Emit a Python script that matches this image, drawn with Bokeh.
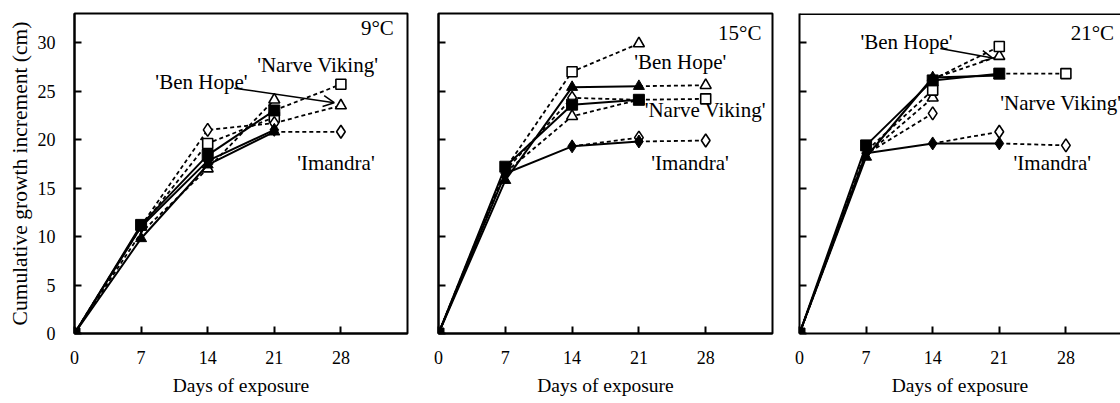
from bokeh.plotting import figure
from bokeh.layouts import row
from bokeh.models import FixedTicker, Label, Arrow, OpenHead, Range1d, Span
from bokeh.embed import file_html
from bokeh.resources import INLINE

FONT = "Liberation Serif"

x_ticks = [0, 7, 14, 21, 28]
y_ticks = [0, 5, 10, 15, 20, 25, 30]
days_f = [0, 7, 14, 21]

# ---------------- 9 °C ----------------
bh9_f = [0, 9.8, 17.4, 20.8]      # 'Ben Hope' filled triangles
nv9_f = [0, 11.2, 18.4, 23.0]     # 'Narve Viking' filled squares
im9_f = [0, 11.0, 17.8, 21.0]     # 'Imandra' filled diamonds
dash9_x = [[0, 7, 14, 21], [0, 7, 14, 21], [0, 7, 14, 21], [21, 28], [21, 28], [21, 28]]
dash9_y = [[0, 10.4, 17.0, 24.1], [0, 11.0, 19.6, 22.3], [0, 11.1, 21.0, 21.7],
           [23.0, 25.7], [21.7, 23.5], [20.8, 20.8]]
tri9_x, tri9_y = [14, 21, 28], [17.0, 24.1, 23.5]
sq9_x, sq9_y = [14, 21, 28], [19.6, 22.3, 25.7]
dia9_x, dia9_y = [14, 21, 28], [21.0, 21.7, 20.8]

# ---------------- 15 °C ----------------
bh15_f = [0, 15.8, 25.4, 25.5]
nv15_f = [0, 17.2, 23.6, 24.1]
im15_f = [0, 16.5, 19.3, 19.8]
dash15_x = [[0, 7, 14, 21], [0, 7, 14, 21], [0, 7, 14, 21], [14, 21], [21, 28], [21, 28], [21, 28]]
dash15_y = [[0, 17.0, 27.0, 29.9], [0, 16.6, 22.4, 24.1], [0, 16.8, 24.3, 24.1],
            [19.3, 20.2], [25.5, 25.6], [24.1, 24.2], [19.8, 19.9]]
tri15_x, tri15_y = [14, 21, 28], [22.4, 29.9, 25.6]
sq15_x, sq15_y = [14, 28], [27.0, 24.2]
dia15_x, dia15_y = [14, 21, 28], [24.3, 20.2, 19.9]

# ---------------- 21 °C ----------------
bh21_f = [0, 18.2, 26.4, 26.6]
nv21_f = [0, 19.4, 26.1, 26.8]
im21_f = [0, 18.6, 19.6, 19.6]
dash21_x = [[0, 7, 14], [0, 7, 14], [0, 7, 14], [14, 21], [14, 21], [14, 21], [21, 28], [21, 28]]
dash21_y = [[0, 18.4, 24.3], [0, 18.8, 25.1], [0, 18.5, 22.7],
            [26.3, 28.6], [26.2, 29.6], [19.6, 20.8], [26.8, 26.8], [19.6, 19.4]]
tri21_x, tri21_y = [14, 21], [24.3, 28.6]
sq21_x, sq21_y = [14, 21, 28], [25.1, 29.6, 26.8]
dia21_x, dia21_y = [14, 21, 28], [22.7, 20.8, 19.4]

MARK_OPEN = {"triangle": 11, "square": 10, "diamond": 13}
MARK_FILL = {"triangle": 11, "square": 11, "diamond": 13}


def style_axis(ax, ticks):
    ax.ticker = FixedTicker(ticks=ticks)
    ax.major_tick_in = 7
    ax.major_tick_out = 0
    ax.minor_tick_line_color = None
    ax.axis_line_width = 2
    ax.axis_line_color = "black"
    ax.major_tick_line_width = 2
    ax.major_tick_line_color = "black"
    ax.major_label_text_font = FONT
    ax.major_label_text_font_size = "18px"
    ax.major_label_text_color = "black"
    ax.axis_label_text_font = FONT
    ax.axis_label_text_font_style = "normal"
    ax.axis_label_text_color = "black"


def panel(width, bl, br, xend, first, filled, dxs, dys, opens, labels, arrow, outline=True):
    p = figure(width=width, height=403, output_backend="svg", toolbar_location=None,
               x_range=Range1d(0, xend), y_range=Range1d(0, 33),
               min_border_left=bl, min_border_right=br, min_border_top=13, min_border_bottom=70,
               background_fill_color="white", border_fill_color="white",
               outline_line_color=("black" if outline else None),
               outline_line_width=(2 if outline else 0),
               outline_line_alpha=(1 if outline else 0))
    p.grid.visible = False
    if not outline:
        p.add_layout(Span(location=33, dimension="width", line_color="black", line_width=3))
    style_axis(p.xaxis[0], x_ticks)
    p.xaxis.major_label_standoff = 17
    p.xaxis.axis_label = "Days of exposure"
    p.xaxis.axis_label_text_font_size = "19.5px"
    p.xaxis.axis_label_standoff = 8
    style_axis(p.yaxis[0], y_ticks)
    if first:
        p.yaxis.major_label_standoff = 19
        p.yaxis.axis_label = "Cumulative growth increment (cm)"
        p.yaxis.axis_label_text_font_size = "21.5px"
        p.yaxis.axis_label_standoff = 3
    else:
        p.yaxis.major_label_overrides = {t: "" for t in y_ticks}
        p.yaxis.major_label_standoff = 0

    p.multi_line(dxs, dys, line_color="black", line_width=1.8, line_dash="4 3")
    for (xs, ys, m) in opens:
        p.scatter(xs, ys, marker=m, size=MARK_OPEN[m], fill_color="white",
                  line_color="black", line_width=1.6)
    for (ys, m) in filled:
        p.line(days_f, ys, line_color="black", line_width=2)
    for (ys, m) in filled:
        p.scatter(days_f, ys, marker=m, size=MARK_FILL[m], fill_color="black",
                  line_color="black", line_width=1)
    for (txt, x, y) in labels:
        p.add_layout(Label(x=x, y=y, text=txt, text_font=FONT, text_font_size="21px",
                           text_color="black", text_baseline="middle", text_align="left"))
    if arrow:
        x0, y0, x1, y1 = arrow
        p.add_layout(Arrow(end=OpenHead(size=11, line_width=1.5, line_color="black"),
                           x_start=x0, y_start=y0, x_end=x1, y_end=y1,
                           line_width=1.5, line_color="black"))
    return p


p1 = panel(422, 74, 15, 35, True,
           [(bh9_f, "triangle"), (nv9_f, "square"), (im9_f, "diamond")],
           dash9_x, dash9_y,
           [(tri9_x, tri9_y, "triangle"), (sq9_x, sq9_y, "square"), (dia9_x, dia9_y, "diamond")],
           [("9°C", 30.1, 31.5), ("'Ben Hope'", 8.5, 25.9), ("'Narve Viking'", 19.2, 27.7),
            ("'Imandra'", 23.4, 17.6)],
           (16.8, 25.3, 27.3, 23.8))

p2 = panel(360, 16, 10, 35, False,
           [(bh15_f, "triangle"), (nv15_f, "square"), (im15_f, "diamond")],
           dash15_x, dash15_y,
           [(tri15_x, tri15_y, "triangle"), (sq15_x, sq15_y, "square"), (dia15_x, dia15_y, "diamond")],
           [("15°C", 29.3, 31.0), ("'Ben Hope'", 20.5, 28.0), ("'Narve Viking'", 21.6, 23.0),
            ("'Imandra'", 22.3, 17.6)],
           None)

p3 = panel(338, 17, 0, 33.74, False,
           [(bh21_f, "triangle"), (nv21_f, "square"), (im21_f, "diamond")],
           dash21_x, dash21_y,
           [(tri21_x, tri21_y, "triangle"), (sq21_x, sq21_y, "square"), (dia21_x, dia21_y, "diamond")],
           [("21°C", 28.5, 31.0), ("'Ben Hope'", 6.4, 30.1), ("'Narve Viking'", 21.1, 23.8),
            ("'Imandra'", 22.5, 17.6)],
           (14.8, 29.4, 20.3, 28.4), outline=False)

layout = row(p1, p2, p3)
open("out.html", "w").write(file_html(layout, INLINE))
